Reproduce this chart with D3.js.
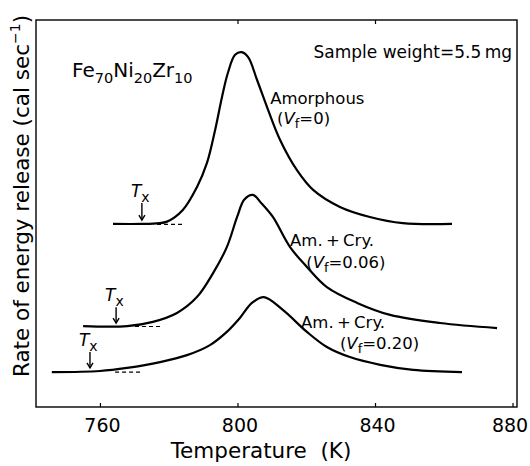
<!DOCTYPE html>
<html><head><meta charset="utf-8">
<script src="https://cdn.jsdelivr.net/npm/d3@7"></script>
<style>
body{margin:0;background:#fff;}
svg{display:block;font-family:"DejaVu Sans",sans-serif;}
</style></head>
<body>
<svg id="chart" width="530" height="466"></svg>
<script>
// ---- data ----
const xTicks = [760, 800, 840, 880];
const topTicks = [800, 840];

const amorphousT = [763.8, 772.2, 775.5, 779.5, 784.1, 788.2, 791.1, 793.5, 795.5, 797.2, 799.3, 801.2, 803.1, 805.7, 808.6, 812.4, 817.3, 822.0, 829.8, 838.5, 848.1, 862.4];
const amorphousV = [47.3, 47.3, 47.4, 47.9, 50.9, 56.8, 63.0, 71.6, 80.1, 86.3, 91.0, 91.7, 90.4, 84.5, 77.5, 69.0, 61.2, 56.1, 51.7, 49.1, 47.5, 47.3];

const cry06T = [755.1, 767.9, 775.4, 782.4, 788.2, 792.9, 796.9, 799.9, 802.0, 804.5, 807.1, 810.3, 815.3, 820.2, 826.0, 834.8, 844.4, 858.9, 875.5];
const cry06V = [20.9, 20.9, 22.0, 24.3, 28.4, 34.6, 41.3, 49.1, 53.6, 54.8, 52.5, 49.1, 41.3, 36.2, 31.0, 26.9, 23.8, 21.7, 20.4];

const cry20T = [746.0, 760.0, 767.9, 777.5, 785.3, 792.0, 796.9, 800.7, 804.2, 807.7, 813.2, 820.2, 826.0, 832.7, 841.5, 851.1, 865.3];
const cry20V = [9.0, 9.3, 10.1, 11.6, 13.4, 16.0, 19.4, 23.0, 26.9, 28.4, 25.1, 19.4, 15.5, 12.9, 10.9, 9.6, 9.0];

// Tx markers: temperature, arrow top value, arrow bottom value
const txTemps = [772.2, 764.7, 757.1];
const txTop = [52.7, 25.8, 14.2];
const txBottom = [48.3, 21.7, 10.1];
// dashed baseline extensions
const dashFrom = [776.6, 770.2, 764.4];
const dashTo = [784.7, 777.5, 772.2];
const dashV = [47.2, 20.8, 9.0];

// curve labels
const labelLine1 = ["Amorphous", "Am.\u2009+\u2009Cry.", "Am.\u2009+\u2009Cry."];
const labelVf = ["0", "0.06", "0.20"];
const label1T = [809.5, 815.3, 818.5];
const label1V = [78.3, 41.6, 20.4];
const label2T = [811.5, 820.0, 829.8];
const label2V = [73.1, 35.9, 15.0];

// ---- chart ----
const svg = d3.select("#chart");
const x = d3.scaleLinear().domain([741.4, 881.3]).range([36, 517]);
const y = d3.scaleLinear().domain([0, 100]).range([407, 20]);

// frame
svg.append("rect").attr("x", x(741.4)).attr("y", y(100))
  .attr("width", x(881.3) - x(741.4)).attr("height", y(0) - y(100))
  .attr("fill", "none").attr("stroke", "#000").attr("stroke-width", 1.4);

// bottom axis
const gx = svg.append("g").attr("transform", `translate(0,${y(0)})`)
  .call(d3.axisBottom(x).tickValues(xTicks).tickSize(-4).tickPadding(12).tickFormat(d3.format("d")));
gx.select(".domain").remove();
gx.selectAll("line").attr("stroke", "#000").attr("stroke-width", 1.2);
gx.selectAll("text").attr("font-size", 19).attr("font-family", "DejaVu Sans").attr("fill", "#000")
  .attr("dx", d => d === 880 ? -3 : 2);

// top ticks
const gt = svg.append("g").attr("transform", `translate(0,${y(100)})`)
  .call(d3.axisTop(x).tickValues(topTicks).tickSize(-4).tickFormat(""));
gt.select(".domain").remove();
gt.selectAll("line").attr("stroke", "#000").attr("stroke-width", 1.2);

// axis titles
svg.append("text").attr("x", 261).attr("y", 458).attr("text-anchor", "middle")
  .attr("font-size", 21.5).text("Temperature\u00a0\u00a0(K)");

const yl = svg.append("text").attr("transform", "translate(29,196) rotate(-90)")
  .attr("text-anchor", "middle").attr("font-size", 21.5);
yl.append("tspan").text("Rate of energy release (cal sec");
yl.append("tspan").attr("font-size", 14).attr("dy", -9).text("\u22121");
yl.append("tspan").attr("dy", 9).text(")");

// curves
const line = d3.line().x(d => x(d[0])).y(d => y(d[1])).curve(d3.curveCatmullRom.alpha(0.5));
const series = [[amorphousT, amorphousV], [cry06T, cry06V], [cry20T, cry20V]];
series.forEach(([t, v]) => {
  svg.append("path").datum(t.map((tt, i) => [tt, v[i]]))
    .attr("d", line).attr("fill", "none").attr("stroke", "#000")
    .attr("stroke-width", 2.2).attr("stroke-linejoin", "round");
});

// dashed extensions
dashFrom.forEach((d, i) => {
  svg.append("line").attr("x1", x(d)).attr("x2", x(dashTo[i]))
    .attr("y1", y(dashV[i])).attr("y2", y(dashV[i]))
    .attr("stroke", "#000").attr("stroke-width", 1.2).attr("stroke-dasharray", "4,3");
});

// Tx arrows and labels
txTemps.forEach((t, i) => {
  const ax = x(t), y1 = y(txTop[i]), y2 = y(txBottom[i]);
  svg.append("line").attr("x1", ax).attr("x2", ax).attr("y1", y1).attr("y2", y2)
    .attr("stroke", "#000").attr("stroke-width", 1.4);
  svg.append("path").attr("d", `M${ax - 3},${y2 - 5} L${ax},${y2} L${ax + 3},${y2 - 5}`)
    .attr("fill", "none").attr("stroke", "#000").attr("stroke-width", 1.4);
  const tx = svg.append("text").attr("x", ax - 11).attr("y", y1 - 6)
    .attr("font-size", 17).attr("font-style", "italic");
  tx.append("tspan").text("T");
  tx.append("tspan").attr("font-size", 14).attr("dy", 5).attr("font-style", "normal").text("x");
});

// curve labels
labelLine1.forEach((s, i) => {
  svg.append("text").attr("x", x(label1T[i])).attr("y", y(label1V[i]))
    .attr("font-size", 16.5).text(s);
  const t2 = svg.append("text").attr("x", x(label2T[i])).attr("y", y(label2V[i]))
    .attr("font-size", 16.5);
  t2.append("tspan").text("(");
  t2.append("tspan").attr("font-style", "italic").text("V");
  t2.append("tspan").attr("font-size", 13).attr("dy", 4).text("f");
  t2.append("tspan").attr("dy", -4).text("=" + labelVf[i] + ")");
});

// composition label
const comp = svg.append("text").attr("x", 72).attr("y", 77).attr("font-size", 20);
[["Fe", false], ["70", true], ["Ni", false], ["20", true], ["Zr", false], ["10", true]].forEach(([s, sub], i, arr) => {
  const prevSub = i > 0 && arr[i - 1][1];
  const dy = sub ? 6 : (prevSub ? -6 : 0);
  comp.append("tspan").attr("font-size", sub ? 14.5 : 20).attr("dy", dy).text(s);
});

svg.append("text").attr("x", 512).attr("y", 58).attr("text-anchor", "end")
  .attr("font-size", 17).text("Sample weight=5.5\u2009mg");
</script>
</body></html>
